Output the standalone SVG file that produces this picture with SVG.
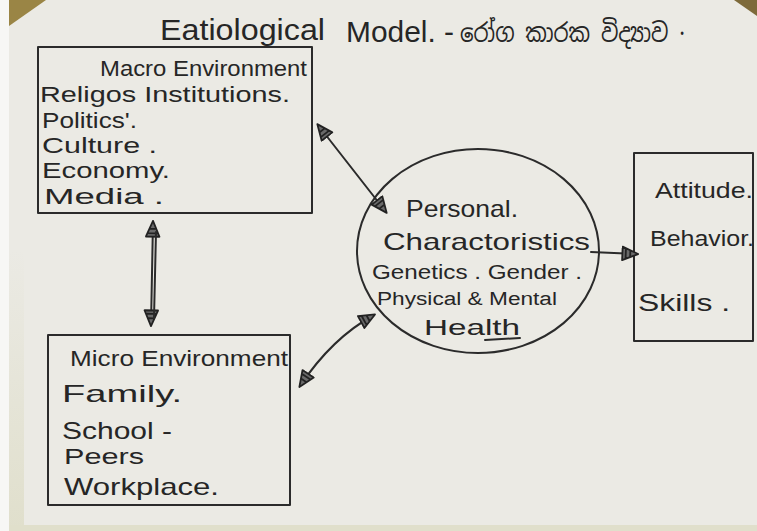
<svg xmlns="http://www.w3.org/2000/svg" width="757" height="531" viewBox="0 0 757 531">
<style>
.ink{fill:none;stroke:#2b2b2b;stroke-width:2;stroke-linecap:round;stroke-linejoin:round}
.t{font-family:"Liberation Sans","DejaVu Sans",sans-serif;fill:#262626}
.si{font-family:"Noto Sans Sinhala","Noto Serif Sinhala","Noto Sans","DejaVu Sans",sans-serif;fill:#262626}
</style>
<defs>
<marker id="ah" viewBox="0 0 16 14" refX="14" refY="7" markerWidth="18" markerHeight="16" markerUnits="userSpaceOnUse" orient="auto-start-reverse">
<path d="M1,1 L15,7 L1,13 Z M4,3 L4,11 M8,4.5 L8,9.5" fill="#6a6a6a" stroke="#222" stroke-width="1.6" stroke-linejoin="round"/>
</marker>
<linearGradient id="ls" x1="0" y1="0" x2="0" y2="1">
<stop offset="0" stop-color="#ebeae4"/>
<stop offset="1" stop-color="#e0dfcc"/>
</linearGradient>
</defs>
<rect x="0" y="0" width="757" height="531" fill="#ebeae4"/>
<rect x="0" y="0" width="9" height="531" fill="#f7f7f5"/>
<rect x="9" y="250" width="15" height="281" fill="url(#ls)"/>
<rect x="9" y="525" width="748" height="6" fill="#e0dfcb"/>
<path d="M9,0 L46,0 L9,26 Z" fill="#9a8545"/>
<path d="M757,0 L734,0 L757,16 Z" fill="#7d6a3a"/>

<g id="title">
<text class="t" x="160" y="40" font-size="29" textLength="165" lengthAdjust="spacingAndGlyphs">Eatiological</text>
<text class="t" x="346" y="42" font-size="29" textLength="108" lengthAdjust="spacingAndGlyphs">Model. -</text>
<text class="si" x="460" y="42" font-size="26" textLength="225" lengthAdjust="spacingAndGlyphs">රෝග කාරක විද්‍යාව ·</text>
</g>

<g id="macro">
<rect class="ink" x="38" y="47" width="274" height="166"/>
<text class="t" x="100" y="76" font-size="22" textLength="207" lengthAdjust="spacingAndGlyphs">Macro Environment</text>
<text class="t" x="40" y="102" font-size="22" textLength="250" lengthAdjust="spacingAndGlyphs">Religos Institutions.</text>
<text class="t" x="42" y="128" font-size="22" textLength="95" lengthAdjust="spacingAndGlyphs">Politics'.</text>
<text class="t" x="42" y="153" font-size="22" textLength="115" lengthAdjust="spacingAndGlyphs">Culture .</text>
<text class="t" x="42" y="178" font-size="22" textLength="128" lengthAdjust="spacingAndGlyphs">Economy.</text>
<text class="t" x="44" y="204" font-size="22" textLength="120" lengthAdjust="spacingAndGlyphs">Media .</text>
</g>

<g id="personal">
<ellipse class="ink" cx="478" cy="251" rx="121" ry="102"/>
<text class="t" x="406" y="217" font-size="24" textLength="112" lengthAdjust="spacingAndGlyphs">Personal.</text>
<text class="t" x="383" y="250" font-size="24" textLength="207" lengthAdjust="spacingAndGlyphs">Charactoristics</text>
<text class="t" x="372" y="279" font-size="21" textLength="210" lengthAdjust="spacingAndGlyphs">Genetics . Gender .</text>
<text class="t" x="377" y="305" font-size="18" textLength="180" lengthAdjust="spacingAndGlyphs">Physical &amp; Mental</text>
<text class="t" x="424" y="335" font-size="22" textLength="96" lengthAdjust="spacingAndGlyphs">Health</text>
<path class="ink" d="M485,340 L520,338"/>
</g>

<g id="outcome">
<rect class="ink" x="634" y="153" width="119" height="188"/>
<text class="t" x="655" y="198" font-size="22" textLength="98" lengthAdjust="spacingAndGlyphs">Attitude.</text>
<text class="t" x="650" y="246" font-size="22" textLength="104" lengthAdjust="spacingAndGlyphs">Behavior.</text>
<text class="t" x="638" y="311" font-size="24" textLength="92" lengthAdjust="spacingAndGlyphs">Skills .</text>
</g>

<g id="micro">
<rect class="ink" x="48" y="335" width="242" height="170"/>
<text class="t" x="70" y="366" font-size="22" textLength="218" lengthAdjust="spacingAndGlyphs">Micro Environment</text>
<text class="t" x="62" y="402" font-size="24" textLength="120" lengthAdjust="spacingAndGlyphs">Family.</text>
<text class="t" x="62" y="439" font-size="24" textLength="110" lengthAdjust="spacingAndGlyphs">School -</text>
<text class="t" x="64" y="464" font-size="22" textLength="80" lengthAdjust="spacingAndGlyphs">Peers</text>
<text class="t" x="64" y="495" font-size="24" textLength="155" lengthAdjust="spacingAndGlyphs">Workplace.</text>
</g>

<g id="connectors">
<path class="ink" d="M318,125 L386,212" marker-start="url(#ah)" marker-end="url(#ah)"/>
<path class="ink" d="M153,222 L151,325" marker-start="url(#ah)" marker-end="url(#ah)"/>
<path class="ink" d="M156,232 L154,318"/>
<path class="ink" d="M374,315 Q332,338 300,386" marker-start="url(#ah)" marker-end="url(#ah)"/>
<path class="ink" d="M591,252 L637,254" marker-end="url(#ah)"/>
</g>
</svg>
